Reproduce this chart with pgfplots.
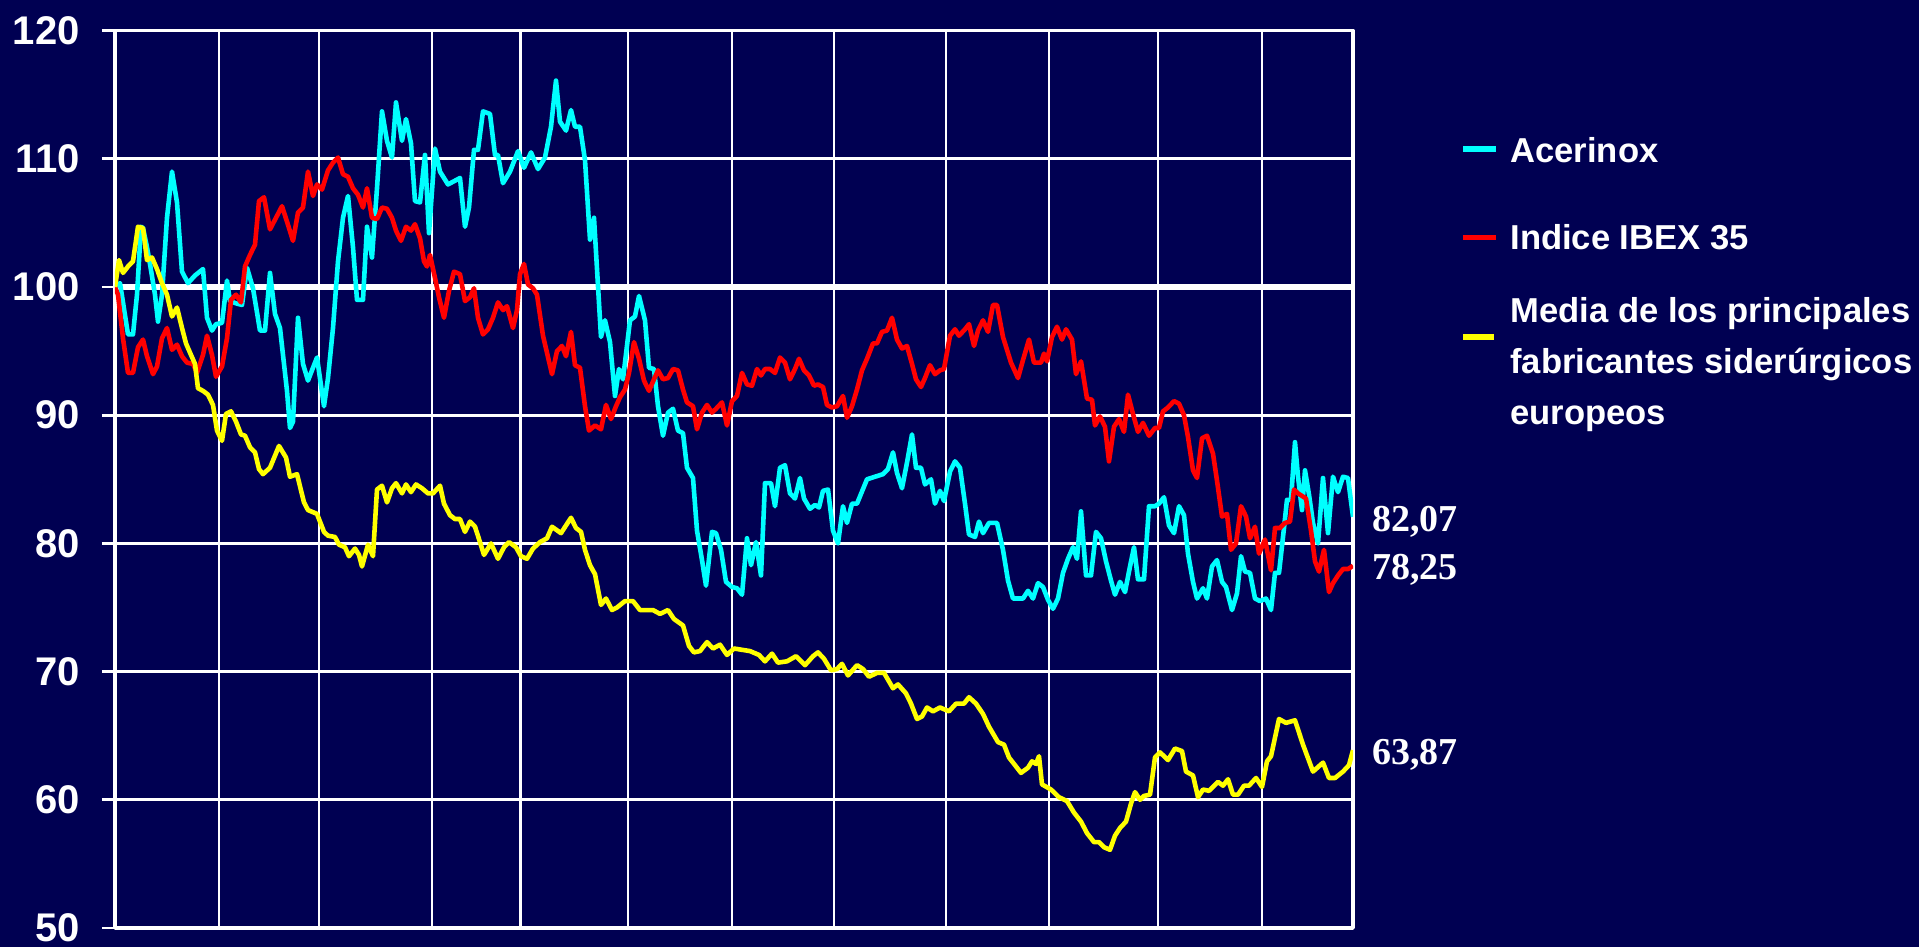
\documentclass[border=0pt]{standalone}
\usepackage{pgfplots}
\pgfplotsset{compat=1.18}
\usepackage{fontspec}
\setmainfont{Liberation Sans}
\newfontfamily\serifb{Liberation Serif}
\definecolor{bg}{RGB}{0,0,82}
\definecolor{acx}{RGB}{0,255,255}
\definecolor{ibx}{RGB}{255,0,0}
\definecolor{med}{RGB}{255,255,0}
\begin{document}
\begin{tikzpicture}
\fill[bg] (0,0) rectangle (959.5pt,473.5pt);
\useasboundingbox (0,0) rectangle (959.5pt,473.5pt);
\begin{axis}[
  at={(57.5pt,9.5pt)}, anchor=south west,
  width=619pt, height=448.7pt, scale only axis,
  xmin=115, xmax=1353, ymin=50, ymax=120,
  xtick={115,219,319,432,520.5,628,732,834,946,1049,1158,1262,1353},
  xmajorticks=false, xmajorgrids,
  ytick={50,60,70,80,90,100,110,120}, ymajorgrids,
  ytick pos=left, tick align=outside, major tick length=6.5pt,
  tick style={white, line width=1.4pt},
  major grid style={white, line width=1.4pt},
  axis line style={white, line width=1.7pt},
  extra y ticks={100}, extra y tick labels={},
  extra y tick style={major grid style={white, line width=2.7pt}},
  /pgf/number format/assume math mode=true,
  yticklabel style={font=\fontsize{20}{21}\selectfont\bfseries, text=white, anchor=east, inner sep=0pt, xshift=-11pt},
  line join=round,
]
\addplot[acx, line width=2.3pt] coordinates {
(115,100.0)(120,100.3)(128,96.3)(133,96.3)(137,99.4)(141,104.7)(143,104.6)(147,103.1)(150,101.8)(155,99.4)(158,97.3)(162,99.4)(167,105.4)(172,109.0)(177,106.6)(182,101.2)(188,100.3)(195,100.9)(203,101.4)(207,97.6)(212,96.6)(216,97.1)(222,97.2)(227,100.5)(230,98.9)(237,98.7)(242,98.6)(247,101.5)(253,99.9)(260,96.6)(265,96.6)(270,101.1)(275,97.9)(280,96.8)(287,91.9)(290,89.0)(293,89.5)(298,97.6)(303,94.0)(308,92.7)(317,94.5)(324,90.7)(328,92.9)(333,96.8)(338,102.0)(343,105.4)(348,107.1)(353,103.1)(357,99.0)(363,99.0)(367,104.7)(372,102.3)(377,107.7)(382,113.7)(387,111.4)(392,110.1)(396,114.4)(402,111.4)(406,113.1)(411,111.2)(415,106.7)(420,106.6)(425,110.3)(429,104.2)(435,110.8)(440,109.0)(448,108.0)(460,108.5)(465,104.7)(469,106.2)(474,110.7)(478,110.7)(483,113.7)(490,113.5)(495,110.3)(498,110.3)(503,108.1)(510,109.0)(518,110.6)(524,109.3)(531,110.5)(538,109.2)(545,110.1)(551,112.5)(556,116.1)(560,112.9)(566,112.2)(571,113.8)(575,112.5)(580,112.5)(585,109.9)(590,103.7)(594,105.4)(601,96.1)(605,97.4)(610,95.7)(615,91.5)(619,93.6)(623,92.8)(630,97.4)(635,97.7)(639,99.3)(645,97.4)(649,93.7)(654,93.6)(658,90.7)(663,88.4)(668,90.2)(673,90.5)(678,88.8)(683,88.6)(687,85.9)(693,85.1)(697,81.0)(702,78.7)(706,76.7)(712,80.9)(716,80.8)(721,79.5)(726,77.0)(732,76.6)(737,76.5)(742,76.0)(747,80.4)(751,78.3)(756,80.1)(761,77.5)(765,84.7)(771,84.7)(775,82.9)(780,85.9)(785,86.1)(790,83.9)(795,83.5)(800,85.1)(804,83.5)(810,82.7)(815,83.0)(819,82.8)(823,84.1)(828,84.2)(833,81.0)(838,80.0)(843,82.9)(847,81.6)(852,83.1)(857,83.1)(867,85.0)(875,85.2)(883,85.4)(888,85.8)(893,87.1)(897,85.5)(902,84.3)(907,86.3)(912,88.5)(916,85.9)(921,85.9)(925,84.6)(931,85.0)(935,83.1)(940,84.1)(944,83.3)(950,85.6)(955,86.4)(960,85.9)(965,83.1)(969,80.7)(975,80.5)(979,81.7)(983,80.8)(989,81.6)(997,81.6)(1003,79.5)(1008,77.1)(1013,75.7)(1023,75.7)(1028,76.3)(1033,75.7)(1038,76.9)(1043,76.6)(1048,75.6)(1053,74.9)(1058,75.7)(1063,77.7)(1068,78.8)(1073,79.7)(1077,78.8)(1081,82.5)(1086,77.5)(1091,77.5)(1096,80.9)(1101,80.4)(1106,78.6)(1111,77.1)(1115,76.0)(1120,77.0)(1125,76.2)(1130,78.2)(1134,79.7)(1138,77.2)(1144,77.2)(1149,82.9)(1155,82.9)(1159,83.1)(1164,83.6)(1169,81.4)(1174,80.8)(1179,82.9)(1184,82.2)(1188,79.2)(1193,77.0)(1197,75.7)(1203,76.5)(1207,75.7)(1212,78.2)(1217,78.7)(1222,77.0)(1226,76.6)(1232,74.8)(1237,76.1)(1241,79.0)(1245,77.8)(1250,77.7)(1255,75.7)(1260,75.5)(1266,75.7)(1271,74.8)(1275,77.7)(1279,77.7)(1284,81.2)(1287,83.4)(1291,83.4)(1295,87.9)(1298,85.2)(1302,82.6)(1305,85.7)(1309,83.8)(1313,81.6)(1318,80.0)(1323,85.1)(1328,80.8)(1333,85.2)(1338,84.0)(1343,85.2)(1348,85.1)(1353,82.07)
};
\addplot[ibx, line width=2.3pt] coordinates {
(115,100.0)(118,99.4)(123,96.0)(128,93.3)(133,93.3)(138,95.3)(143,95.9)(147,94.6)(153,93.2)(157,93.8)(162,96.0)(167,96.8)(172,95.1)(177,95.5)(182,94.6)(187,94.1)(193,94.0)(197,93.3)(203,94.7)(207,96.2)(212,94.7)(216,93.0)(222,93.8)(227,96.0)(231,99.0)(236,99.4)(241,98.8)(245,101.6)(250,102.5)(255,103.3)(259,106.7)(264,107.0)(270,104.5)(276,105.4)(282,106.3)(287,105.1)(293,103.6)(298,105.8)(303,106.2)(308,109.0)(313,107.1)(317,108.0)(322,107.6)(328,109.1)(333,109.7)(338,110.1)(343,108.8)(348,108.6)(353,107.7)(358,107.2)(363,106.2)(367,107.7)(372,105.4)(377,105.3)(382,106.2)(387,106.1)(392,105.4)(396,104.4)(401,103.6)(406,104.7)(411,104.4)(415,104.9)(420,103.8)(424,102.0)(427,101.6)(430,102.5)(435,100.7)(439,99.2)(444,97.6)(449,99.7)(454,101.2)(460,101.0)(465,98.9)(470,99.2)(474,99.9)(478,97.6)(483,96.3)(488,96.7)(493,97.6)(498,98.8)(503,98.2)(507,98.5)(513,96.8)(517,98.2)(520,101.0)(524,101.8)(528,100.2)(533,99.9)(537,99.4)(543,96.2)(552,93.2)(557,95.0)(562,95.4)(566,94.6)(571,96.5)(575,93.9)(580,93.7)(585,90.7)(589,88.8)(595,89.2)(601,88.9)(606,90.8)(611,89.7)(616,90.7)(620,91.4)(625,92.0)(629,93.3)(634,95.7)(639,94.4)(644,92.7)(649,91.9)(654,92.8)(658,93.5)(663,92.8)(668,92.9)(673,93.6)(678,93.5)(683,92.0)(687,91.0)(693,90.7)(697,88.9)(702,90.2)(707,90.8)(712,90.2)(716,90.5)(722,91.0)(727,89.2)(732,91.1)(737,91.5)(742,93.3)(747,92.4)(752,92.3)(757,93.6)(761,93.1)(765,93.6)(770,93.6)(775,93.3)(780,94.5)(785,94.1)(790,92.8)(795,93.6)(799,94.4)(804,93.5)(809,93.1)(814,92.3)(818,92.4)(823,92.2)(827,90.8)(832,90.6)(837,90.7)(843,91.5)(847,89.8)(852,90.7)(857,92.0)(862,93.5)(867,94.4)(873,95.6)(877,95.6)(882,96.5)(887,96.6)(892,97.6)(897,95.9)(902,95.2)(907,95.4)(912,94.0)(916,92.8)(921,92.2)(925,92.9)(930,93.9)(935,93.2)(940,93.5)(944,93.6)(950,96.2)(955,96.7)(959,96.2)(965,96.7)(969,97.1)(974,95.4)(978,96.6)(983,97.4)(988,96.5)(993,98.6)(997,98.6)(1003,96.1)(1011,94.1)(1018,92.9)(1023,94.3)(1029,95.9)(1034,94.1)(1041,94.1)(1044,94.8)(1047,94.2)(1052,96.1)(1057,96.9)(1062,95.9)(1066,96.7)(1072,95.9)(1076,93.2)(1081,94.2)(1087,91.3)(1092,91.2)(1095,89.2)(1100,89.9)(1105,89.1)(1109,86.4)(1114,89.1)(1119,89.7)(1124,88.7)(1128,91.6)(1133,90.1)(1138,88.7)(1143,89.4)(1149,88.4)(1155,89.0)(1159,89.0)(1163,90.3)(1168,90.6)(1174,91.1)(1179,90.9)(1184,90.0)(1188,88.3)(1193,85.7)(1197,85.1)(1202,88.2)(1207,88.4)(1213,87.0)(1217,84.9)(1222,82.1)(1227,82.3)(1231,79.5)(1236,80.0)(1241,82.9)(1246,82.1)(1250,80.4)(1255,81.3)(1259,79.2)(1265,80.3)(1271,77.9)(1275,81.2)(1280,81.2)(1285,81.6)(1290,81.7)(1294,84.2)(1298,83.9)(1306,83.5)(1311,81.0)(1315,78.6)(1319,77.8)(1324,79.5)(1329,76.2)(1333,76.9)(1338,77.5)(1343,78.0)(1348,78.0)(1353,78.25)
};
\addplot[med, line width=2.3pt] coordinates {
(115,100.0)(119,102.1)(123,101.1)(128,101.6)(133,102.0)(138,104.7)(143,104.6)(147,102.1)(152,102.3)(157,101.4)(162,100.3)(167,99.4)(172,97.7)(177,98.4)(182,96.8)(186,95.6)(191,94.7)(195,94.0)(198,92.1)(203,91.9)(208,91.6)(213,90.8)(217,88.8)(222,88.0)(226,90.1)(231,90.3)(236,89.5)(241,88.5)(245,88.4)(250,87.5)(255,87.1)(259,85.8)(263,85.4)(270,85.9)(279,87.6)(286,86.7)(290,85.2)(297,85.4)(304,83.2)(308,82.6)(317,82.3)(324,80.9)(328,80.6)(335,80.5)(339,79.9)(345,79.7)(349,79.0)(355,79.6)(359,79.1)(362,78.2)(368,79.9)(373,79.0)(377,84.2)(382,84.5)(387,83.2)(392,84.3)(396,84.7)(402,83.9)(406,84.6)(411,84.0)(416,84.6)(422,84.3)(428,83.9)(433,83.9)(440,84.5)(444,83.1)(450,82.2)(455,81.9)(460,81.9)(465,80.9)(470,81.7)(475,81.3)(480,80.1)(484,79.1)(491,80.0)(498,78.8)(504,79.7)(509,80.1)(516,79.7)(521,79.0)(527,78.8)(533,79.6)(540,80.1)(547,80.4)(552,81.3)(561,80.8)(571,82.0)(576,81.2)(581,80.9)(585,79.5)(590,78.3)(595,77.6)(601,75.2)(606,75.7)(612,74.8)(617,75.0)(625,75.5)(633,75.5)(640,74.8)(653,74.8)(660,74.5)(668,74.8)(674,74.1)(683,73.6)(689,72.0)(694,71.5)(700,71.6)(707,72.3)(713,71.8)(720,72.1)(727,71.3)(734,71.8)(742,71.7)(750,71.6)(759,71.3)(765,70.8)(772,71.4)(778,70.7)(787,70.8)(796,71.2)(805,70.5)(813,71.2)(818,71.5)(824,71.0)(831,70.1)(837,70.2)(842,70.6)(848,69.7)(857,70.5)(863,70.2)(869,69.6)(877,69.9)(884,69.9)(893,68.7)(898,69.0)(906,68.3)(911,67.5)(917,66.3)(922,66.5)(927,67.2)(933,66.9)(940,67.2)(949,66.9)(956,67.5)(964,67.5)(969,68.0)(976,67.5)(983,66.7)(989,65.7)(998,64.5)(1004,64.3)(1009,63.3)(1017,62.5)(1021,62.1)(1028,62.5)(1032,63.0)(1036,62.8)(1039,63.4)(1042,61.2)(1051,60.8)(1059,60.2)(1067,59.9)(1074,59.0)(1081,58.3)(1087,57.4)(1094,56.7)(1099,56.7)(1104,56.3)(1110,56.1)(1115,57.2)(1120,57.8)(1126,58.3)(1131,59.7)(1135,60.6)(1140,60.0)(1144,60.3)(1150,60.4)(1155,63.3)(1160,63.7)(1168,63.1)(1175,64.0)(1182,63.8)(1186,62.2)(1193,61.9)(1198,60.2)(1203,60.8)(1209,60.7)(1218,61.4)(1223,61.1)(1228,61.6)(1233,60.4)(1238,60.4)(1244,61.1)(1249,61.1)(1256,61.7)(1262,61.0)(1267,63.0)(1271,63.4)(1279,66.3)(1286,66.0)(1295,66.2)(1303,64.3)(1313,62.2)(1323,62.9)(1329,61.7)(1335,61.7)(1343,62.2)(1349,62.7)(1353,63.87)
};
\end{axis}
% legend
\draw[acx, line width=2.6pt] (731.5pt,399pt) -- (748pt,399pt);
\node[anchor=base west, inner sep=0pt, text=white, font=\fontsize{17.3}{25.5}\selectfont\bfseries] at (755pt,392pt) {Acerinox};
\draw[ibx, line width=2.6pt] (731.5pt,354.9pt) -- (748pt,354.9pt);
\node[anchor=base west, inner sep=0pt, text=white, font=\fontsize{17.3}{25.5}\selectfont\bfseries] at (755pt,348.5pt) {Indice IBEX 35};
\draw[med, line width=2.6pt] (731.5pt,305pt) -- (747pt,305pt);
\node[anchor=base west, inner sep=0pt, text=white, font=\fontsize{17.3}{25.5}\selectfont\bfseries] at (755pt,312pt) {Media de los principales};
\node[anchor=base west, inner sep=0pt, text=white, font=\fontsize{17.3}{25.5}\selectfont\bfseries] at (755pt,286.5pt) {fabricantes siderúrgicos};
\node[anchor=base west, inner sep=0pt, text=white, font=\fontsize{17.3}{25.5}\selectfont\bfseries] at (755pt,261pt) {europeos};
% end values
\node[anchor=base west, inner sep=0pt, text=white, font=\serifb\fontsize{19}{21}\selectfont\bfseries] at (685.8pt,207.7pt) {82,07};
\node[anchor=base west, inner sep=0pt, text=white, font=\serifb\fontsize{19}{21}\selectfont\bfseries] at (685.8pt,183.8pt) {78,25};
\node[anchor=base west, inner sep=0pt, text=white, font=\serifb\fontsize{19}{21}\selectfont\bfseries] at (685.8pt,91pt) {63,87};
\end{tikzpicture}
\end{document}
